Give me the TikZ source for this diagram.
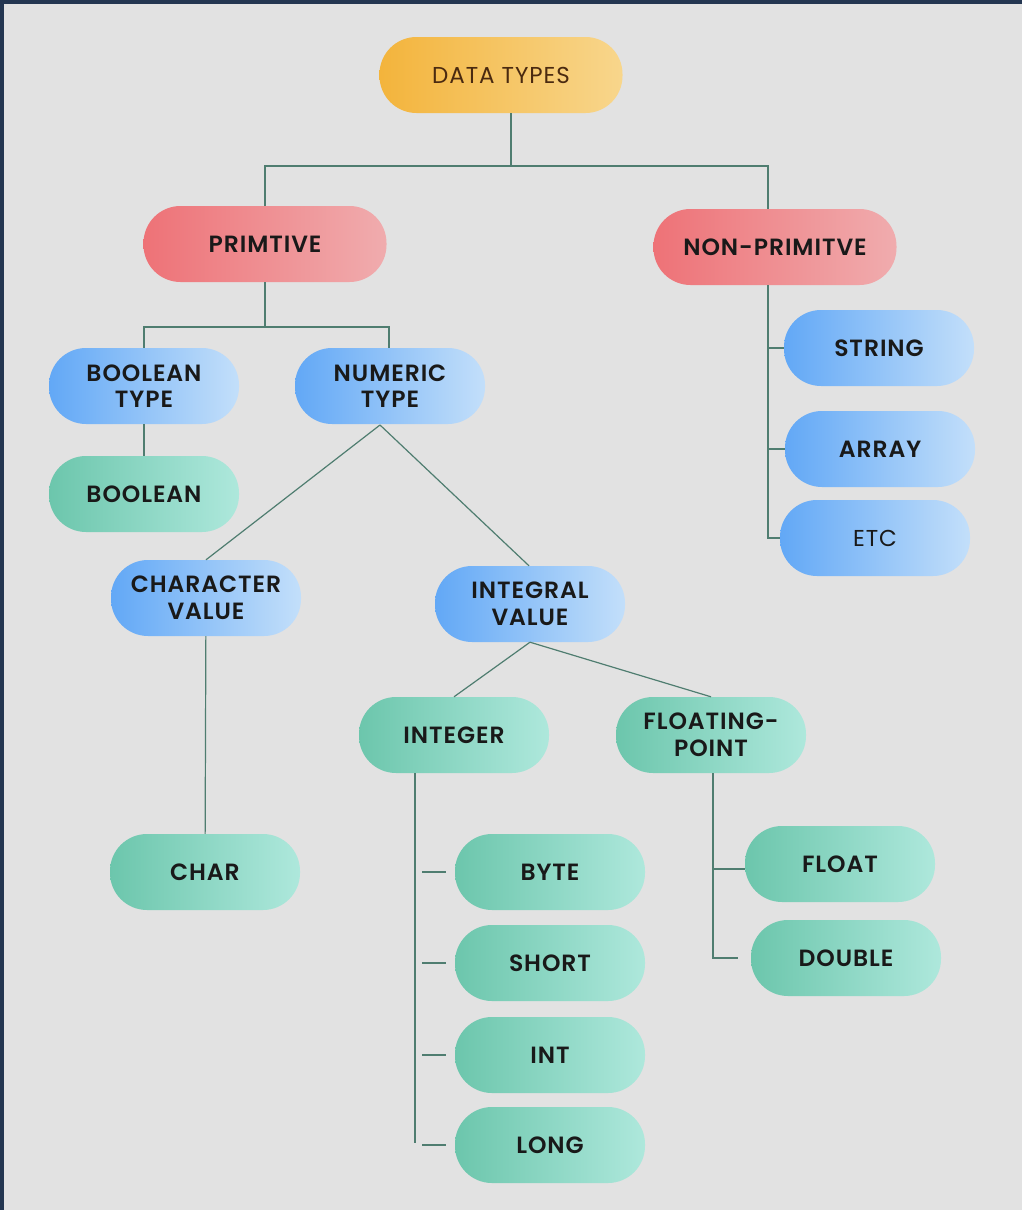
\documentclass[tikz,border=0pt]{standalone}
\usepackage{fontspec}
\setmainfont{Poppins}[LetterSpace=4, BoldFont={Poppins SemiBold}]
\usetikzlibrary{arrows}

\definecolor{pageback}{HTML}{E2E2E2}
\definecolor{framedark}{HTML}{243651}
\definecolor{linkgreen}{HTML}{4F7D70}
\definecolor{orangeL}{HTML}{F3B43C}
\definecolor{orangeR}{HTML}{F8D68C}
\definecolor{orangetext}{HTML}{4A2A10}
\definecolor{redL}{HTML}{EE7277}
\definecolor{redR}{HTML}{F0ACAE}
\definecolor{blueL}{HTML}{62A8F6}
\definecolor{blueR}{HTML}{C3DFFA}
\definecolor{greenL}{HTML}{6CC6AC}
\definecolor{greenR}{HTML}{AEE8DC}

\tikzset{
  pill/.style={rectangle, rounded corners=37pt, minimum width=190pt, minimum height=76pt,
    align=center, inner sep=0pt, text=black!90,
    font=\fontsize{23.5}{26.5}\selectfont\bfseries},
  wide/.style={minimum width=243pt},
  plain/.style={font=\fontsize{23}{26.5}\selectfont},
  orangepill/.style={pill, left color=orangeL, right color=orangeR},
  redpill/.style={pill, wide, left color=redL, right color=redR},
  bluepill/.style={pill, left color=blueL, right color=blueR},
  greenpill/.style={pill, left color=greenL, right color=greenR},
  link/.style={draw=linkgreen, line width=1.2pt}
}

\begin{document}
\begin{tikzpicture}[x=1pt, y=-1pt]

\useasboundingbox (0,0) rectangle (1022,1210);
\fill [pageback] (0,0) rectangle (1022,1210);
\fill [framedark] (0,0) rectangle (4,1210);
\fill [framedark] (0,0) rectangle (1022,4);

\node [orangepill, wide, plain, text=orangetext] (data) at (501,75) {DATA TYPES};

\node [redpill] (prim) at (265,244) {PRIMTIVE};
\node [redpill] (nonprim) at (775,247) {NON-PRIMITVE};

\node [bluepill] (booltype) at (144,386) {BOOLEAN\\TYPE};
\node [bluepill] (numtype) at (390,386) {NUMERIC\\TYPE};
\node [greenpill] (bool) at (144,494) {BOOLEAN};

\node [bluepill] (charval) at (206,598) {CHARACTER\\VALUE};
\node [bluepill] (intval) at (530,604) {INTEGRAL\\VALUE};
\node [greenpill] (char) at (205,872) {CHAR};

\node [greenpill] (integer) at (454,735) {INTEGER};
\node [greenpill] (floatpt) at (711,735) {FLOATING-\\POINT};

\node [greenpill] (byte) at (550,872) {BYTE};
\node [greenpill] (short) at (550,963) {SHORT};
\node [greenpill] (int) at (550,1055) {INT};
\node [greenpill] (long) at (550,1145) {LONG};

\node [greenpill] (float) at (840,864) {FLOAT};
\node [greenpill] (double) at (846,958) {DOUBLE};

\node [bluepill] (string) at (879,348) {STRING};
\node [bluepill] (array) at (880,449) {ARRAY};
\node [bluepill, plain] (etc) at (875,538) {ETC};

% top levels
\draw [link] (data.south -| 511,0) -- (511,166) -| (prim.north);
\draw [link] (511,166) -| (768,0 |- nonprim.north);
\draw [link] (prim.south) -- (265,327) -| (booltype.north);
\draw [link] (265,327) -| (numtype.north -| 389,0);
\draw [link] (booltype) -- (bool);

% numeric
\draw [link] (380,425) -- (charval.north);
\draw [link] (380,425) -- (intval.north -| 529,0);
\draw [link] (charval) -- (char);
\draw [link] (intval.south) -- (integer.north);
\draw [link] (intval.south) -- (floatpt.north);

% integer list
\draw [link] (integer.south -| 415,0) -- (415,1143);
\foreach \n in {byte,short,int,long}
  \draw [link] (422,0 |- \n.west) -- (446,0 |- \n.west);

% floating point
\draw [link] (floatpt.south -| 713,0) |- (double.west -| 738,0);
\draw [link] (713,869) -- (float.west |- 738,869);

% non primitive
\draw [link] (nonprim.south -| 768,0) |- (etc.west);
\draw [link] (768,0 |- string.west) -- (string.west);
\draw [link] (768,0 |- array.west) -- (array.west);

\end{tikzpicture}
\end{document}
